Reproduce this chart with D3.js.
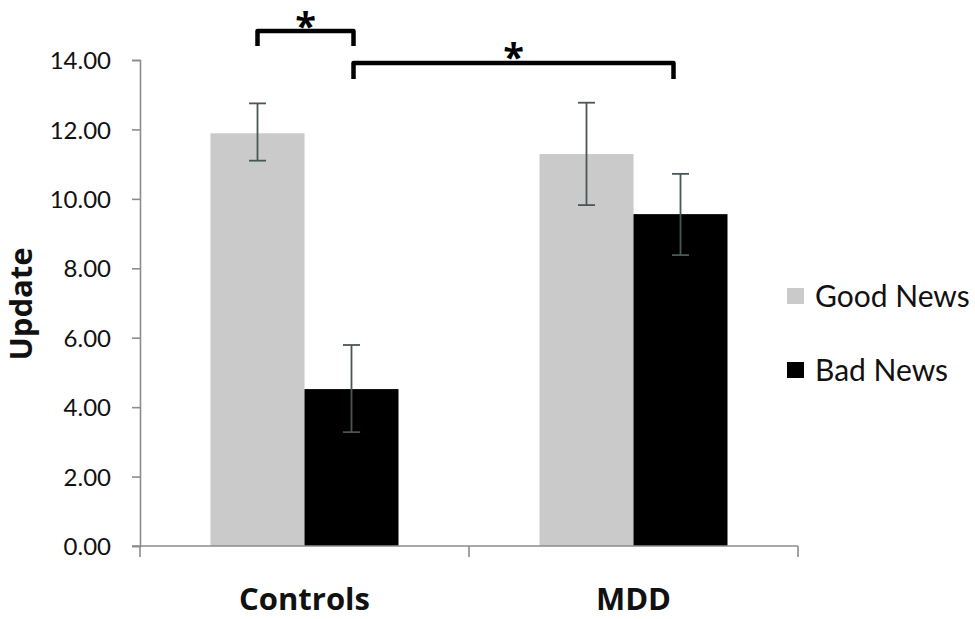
<!DOCTYPE html>
<html>
<head>
<meta charset="utf-8">
<script src="https://cdn.jsdelivr.net/npm/d3@7"></script>
<style>
  body { margin: 0; background: #fff; }
  svg { display: block; font-family: Lato, "Open Sans", sans-serif; }
</style>
</head>
<body>
<div class="chart"></div>
<script>
var width = 975;
var height = 619;

var groups = ["Controls", "MDD"];
var series = ["Good News", "Bad News"];
var seriesColors = ["#cacaca", "#000000"];
// means per group, in series order
var goodNews = [11.89, 11.29];
var badNews = [4.52, 9.56];
// error bar ends
var goodLow = [11.10, 9.82];
var goodHigh = [12.75, 12.77];
var badLow = [3.28, 8.38];
var badHigh = [5.79, 10.72];
var yTicks = [0, 2, 4, 6, 8, 10, 12, 14];

var data = [];
groups.forEach(function (g, i) {
  data.push({ group: g, series: series[0], value: goodNews[i], lo: goodLow[i], hi: goodHigh[i] });
  data.push({ group: g, series: series[1], value: badNews[i], lo: badLow[i], hi: badHigh[i] });
});

var svg = d3
  .select(".chart")
  .append("svg")
  .attr("width", width)
  .attr("height", height);

var x0 = d3.scaleBand().domain(groups).range([140, 798]).padding(0);
var x1 = d3
  .scaleBand()
  .domain(series)
  .range([0, x0.bandwidth()])
  .paddingInner(0)
  .paddingOuter(0.75);
var y = d3.scaleLinear().domain([0, 14]).range([546, 60]);
var color = d3.scaleOrdinal().domain(series).range(seriesColors);

// bars
svg
  .append("g")
  .selectAll("rect")
  .data(data)
  .enter()
  .append("rect")
  .attr("x", function (d) { return x0(d.group) + x1(d.series); })
  .attr("y", function (d) { return y(d.value); })
  .attr("width", x1.bandwidth())
  .attr("height", function (d) { return y(0) - y(d.value); })
  .attr("fill", function (d) { return color(d.series); });

// error bars
var err = svg.append("g").attr("stroke", "#4a5656").attr("stroke-width", 1.8);
data.forEach(function (d) {
  var cx = x0(d.group) + x1(d.series) + x1.bandwidth() / 2;
  err.append("line").attr("x1", cx).attr("x2", cx).attr("y1", y(d.hi)).attr("y2", y(d.lo));
  err.append("line").attr("x1", cx - 8.5).attr("x2", cx + 8.5).attr("y1", y(d.hi)).attr("y2", y(d.hi));
  err.append("line").attr("x1", cx - 8.5).attr("x2", cx + 8.5).attr("y1", y(d.lo)).attr("y2", y(d.lo));
});

// y axis
var yAxis = svg
  .append("g")
  .attr("transform", "translate(140,0)")
  .call(d3.axisLeft(y).tickValues(yTicks).tickSize(8).tickFormat(d3.format(".2f")));
yAxis.select(".domain").attr("stroke", "#8c8c8c").attr("stroke-width", 1.6);
yAxis.selectAll(".tick line").attr("stroke", "#8c8c8c").attr("stroke-width", 1.6);
yAxis
  .selectAll(".tick text")
  .attr("x", -29)
  .attr("dy", "0.36em")
  .style("font-size", "24px")
  .style("font-family", "Lato, sans-serif")
  .attr("fill", "#111");

// x axis with boundary ticks
var xg = svg.append("g").attr("transform", "translate(0," + y(0) + ")");
xg.append("line")
  .attr("x1", 132).attr("x2", 798)
  .attr("stroke", "#8c8c8c").attr("stroke-width", 1.6);
var bounds = groups.map(function (g) { return x0(g); }).concat([x0.range()[1]]);
xg.selectAll(".bt")
  .data(bounds)
  .enter()
  .append("line")
  .attr("x1", function (d) { return d; })
  .attr("x2", function (d) { return d; })
  .attr("y1", 0)
  .attr("y2", 11)
  .attr("stroke", "#8c8c8c")
  .attr("stroke-width", 1.6);
xg.selectAll(".cat")
  .data(groups)
  .enter()
  .append("text")
  .attr("x", function (d) { return x0(d) + x0.bandwidth() / 2; })
  .attr("y", 64)
  .attr("text-anchor", "middle")
  .style("font-family", "'Open Sans', sans-serif")
  .style("font-size", "31px")
  .style("font-weight", "bold")
  .attr("fill", "#111")
  .text(function (d) { return d; });

// y label
svg
  .append("text")
  .attr("transform", "translate(32,304) rotate(-90)")
  .attr("text-anchor", "middle")
  .style("font-family", "'Open Sans', sans-serif")
  .style("font-size", "31px")
  .style("font-weight", "bold")
  .attr("fill", "#111")
  .text("Update");

// significance brackets
function barCenter(g, s) {
  return x0(g) + x1(s) + x1.bandwidth() / 2;
}
var brackets = [
  { x1: barCenter("Controls", "Good News"), x2: barCenter("Controls", "Bad News") + 2, top: 31, leg: 15, starY: 40 },
  { x1: barCenter("Controls", "Bad News") + 2, x2: barCenter("MDD", "Bad News") - 7, top: 63, leg: 16, starY: 71 }
];
var br = svg.append("g");
brackets.forEach(function (b) {
  br.append("path")
    .attr("d", "M" + b.x1 + "," + (b.top + b.leg) + "V" + b.top + "H" + b.x2 + "V" + (b.top + b.leg))
    .attr("fill", "none")
    .attr("stroke", "#000")
    .attr("stroke-width", 4.5)
    .attr("stroke-linejoin", "round");
  br.append("text")
    .attr("x", (b.x1 + b.x2) / 2)
    .attr("y", b.starY)
    .attr("text-anchor", "middle")
    .style("font-family", "'Open Sans', sans-serif")
    .style("font-size", "38px")
    .style("font-weight", "bold")
    .attr("fill", "#000")
    .text("*");
});

// legend
var legend = svg
  .append("g")
  .selectAll("g")
  .data(series)
  .enter()
  .append("g")
  .attr("transform", function (_, i) { return "translate(787," + (288 + i * 74) + ")"; });
legend
  .append("rect")
  .attr("width", 17)
  .attr("height", 16)
  .attr("fill", function (d) { return color(d); });
legend
  .append("text")
  .attr("x", 28)
  .attr("y", 19)
  .style("font-size", "30px")
  .attr("fill", "#111")
  .text(function (d) { return d; });
</script>
</body>
</html>
